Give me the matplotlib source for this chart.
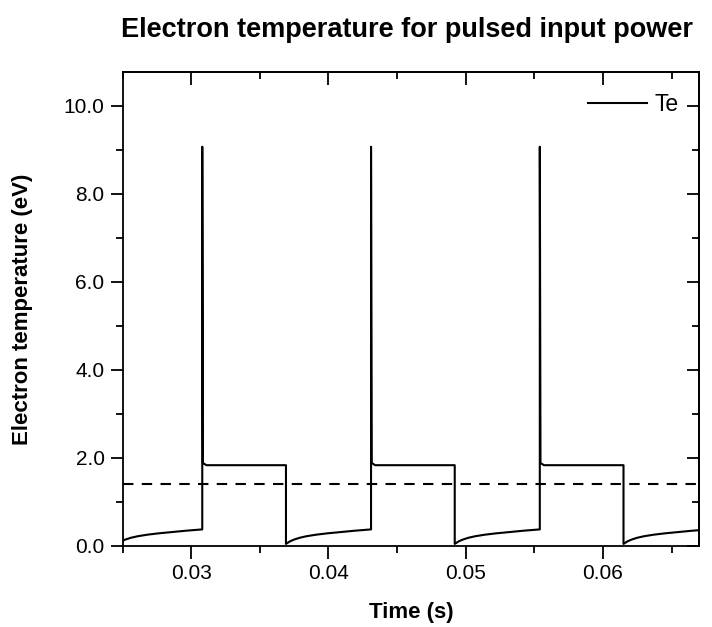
import matplotlib
matplotlib.use('Agg')
import matplotlib.pyplot as plt
import numpy as np
from matplotlib.ticker import MultipleLocator, FormatStrFormatter

plt.rcParams['font.family'] = 'Liberation Sans'
plt.rcParams['font.size'] = 15

# Pulse timing (s): power switched on / off
pulse_on = [0.0308, 0.0431, 0.0554]
pulse_off = [0.0246, 0.0369, 0.0492, 0.0615]

# Te just after switch-on: spike, fast decay, flat plateau (eV)
on_dt = [0.0, 0.0, 0.00005, 0.0003]
on_te = [0.37, 9.07, 1.88, 1.83]
plateau_te = 1.83

# Te recovery after switch-off (eV)
off_dt = [0.0, 0.0001, 0.0003, 0.0006, 0.001, 0.0015, 0.0022, 0.003, 0.004, 0.005, 0.0062]
off_te = [0.04, 0.06, 0.10, 0.14, 0.18, 0.215, 0.25, 0.28, 0.31, 0.34, 0.37]

threshold_te = 1.40

# Assemble the trace cycle by cycle
t, te = [], []
for i, t_off in enumerate(pulse_off):
    if i > 0:
        t.append(t_off)
        te.append(plateau_te)
    t += [t_off + d for d in off_dt]
    te += off_te
    if i < len(pulse_on):
        t_on = pulse_on[i]
        t += [t_on + d for d in on_dt]
        te += on_te

fig = plt.figure(figsize=(7.12, 6.27), dpi=100)
ax = fig.add_axes([0.1723, 0.1297, 0.8094, 0.7555])

ax.plot(t, te, color='black', linewidth=1.5, label='Te')
ax.axhline(threshold_te, color='black', linewidth=1.5, linestyle=(0, (5, 4)))

ax.set_xlim(0.025, 0.067)
ax.set_ylim(0, 10.77)

ax.xaxis.set_major_locator(MultipleLocator(0.01))
ax.xaxis.set_minor_locator(MultipleLocator(0.005))
ax.yaxis.set_major_locator(MultipleLocator(2.0))
ax.yaxis.set_minor_locator(MultipleLocator(1.0))
ax.xaxis.set_major_formatter(FormatStrFormatter('%.2f'))
ax.yaxis.set_major_formatter(FormatStrFormatter('%.1f'))

ax.tick_params(which='major', direction='out', length=9, width=1.3, pad=4)
ax.tick_params(which='minor', direction='out', length=5, width=1.3)

# Inward ticks on top and right edges
top = ax.secondary_xaxis('top')
top.xaxis.set_major_locator(MultipleLocator(0.01))
top.xaxis.set_minor_locator(MultipleLocator(0.005))
top.tick_params(which='major', direction='in', length=9, width=1.3, labeltop=False)
top.tick_params(which='minor', direction='in', length=5, width=1.3)
right = ax.secondary_yaxis('right')
right.yaxis.set_major_locator(MultipleLocator(2.0))
right.yaxis.set_minor_locator(MultipleLocator(1.0))
right.tick_params(which='major', direction='in', length=9, width=1.3, labelright=False)
right.tick_params(which='minor', direction='in', length=5, width=1.3)

for sp in list(ax.spines.values()) + [top.spines['top'], right.spines['right']]:
    sp.set_linewidth(1.3)

ax.set_xlabel('Time (s)', fontsize=16, fontweight='bold', labelpad=14)
ax.set_ylabel('Electron temperature (eV)', fontsize=16, fontweight='bold', labelpad=22)
fig.text(0.571, 0.952, 'Electron temperature for pulsed input power', fontsize=19.5,
         fontweight='bold', ha='center', va='center')

ax.legend(loc='upper right', frameon=False, fontsize=16.5, handlelength=2.6,
          handletextpad=0.3, borderaxespad=0.5)

fig.savefig('out.png', dpi=100)
